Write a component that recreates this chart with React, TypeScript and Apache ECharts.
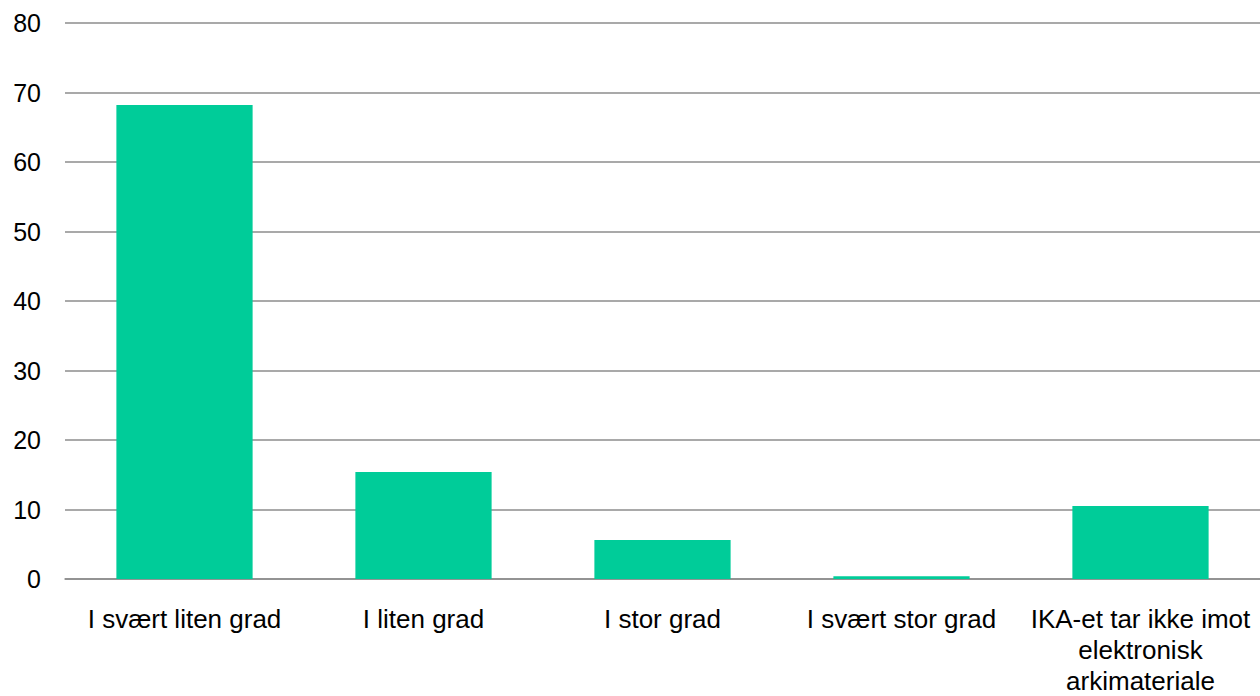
import React, { useEffect, useRef } from "react";
import * as echarts from "echarts";

const categories = [
  "I svært liten grad",
  "I liten grad",
  "I stor grad",
  "I svært stor grad",
  "IKA-et tar ikke imot\nelektronisk\narkimateriale",
];
const values = [68.2, 15.4, 5.6, 0.4, 10.5];
const yMin = 0;
const yMax = 80;
const yInterval = 10;

export default function App() {
  const ref = useRef<HTMLDivElement>(null);
  useEffect(() => {
    if (!ref.current) return;
    const chart = echarts.init(ref.current, null, { renderer: "svg" });
    chart.setOption({
      animation: false,
      backgroundColor: "#ffffff",
      grid: { left: 65, top: 23, right: -3, height: 560, containLabel: false },
      xAxis: {
        type: "category",
        data: categories,
        axisLine: { show: true, lineStyle: { color: "#8c8c8c", width: 1.5 } },
        axisTick: { show: false },
        axisLabel: {
          interval: 0,
          color: "#000000",
          fontFamily: "Liberation Sans, Arial, sans-serif",
          fontSize: 26,
          lineHeight: 31,
          margin: 24,
        },
      },
      yAxis: {
        type: "value",
        min: yMin,
        max: yMax,
        interval: yInterval,
        axisLine: { show: false },
        axisTick: { show: false },
        splitLine: { show: true, lineStyle: { color: "#8c8c8c", width: 1.5 } },
        axisLabel: {
          color: "#000000",
          fontFamily: "Liberation Sans, Arial, sans-serif",
          fontSize: 25,
          margin: 24,
        },
      },
      series: [
        {
          type: "bar",
          data: values,
          barWidth: "57%",
          itemStyle: { color: "#00CC99" },
        },
      ],
    });
    return () => chart.dispose();
  }, []);
  return (
    <div
      ref={ref}
      style={{ position: "fixed", left: 0, top: 0, width: 1260, height: 696 }}
    />
  );
}
